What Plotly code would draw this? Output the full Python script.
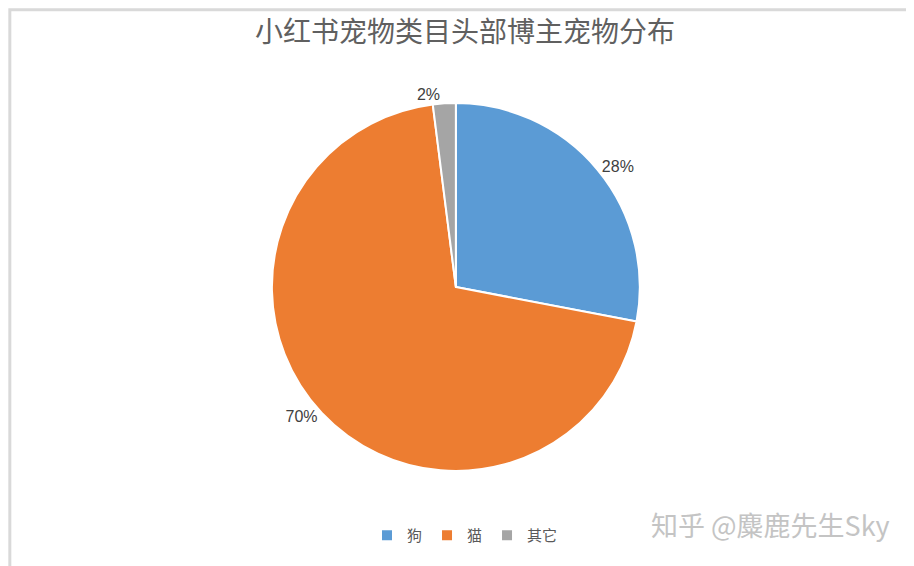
import plotly.graph_objects as graph_objects

# data
labels = ["狗", "猫", "其它"]
values = [28, 70, 2]
colors = ["#5B9BD5", "#ED7D31", "#A5A5A5"]
title_text = "小红书宠物类目头部博主宠物分布"
watermark = "知乎 @麋鹿先生Sky"

cjk = "Noto Sans CJK SC"

fig = graph_objects.Figure()
fig.add_trace(
    graph_objects.Pie(
        labels=labels,
        values=values,
        sort=False,
        direction="clockwise",
        rotation=0,
        marker=dict(colors=colors, line=dict(color="white", width=2)),
        textinfo="percent",
        texttemplate="%{percent:.0%}",
        textposition="outside",
        textfont=dict(family="Liberation Sans, " + cjk, size=16, color="#404040"),
        hoverinfo="label+percent",
        domain=dict(x=[0.27, 0.71], y=[0.182, 0.832]),
        showlegend=True,
    )
)

fig.update_layout(
    width=914,
    height=566,
    margin=dict(l=0, r=0, t=0, b=0),
    paper_bgcolor="white",
    plot_bgcolor="white",
    font=dict(family=cjk, color="#595959"),
    title=dict(
        text=title_text,
        x=0.5,
        xanchor="center",
        y=0.958,
        yanchor="middle",
        font=dict(family=cjk, size=28, color="#606060"),
    ),
    legend=dict(
        orientation="h",
        x=0.5,
        xanchor="center",
        y=0.068,
        yanchor="middle",
        font=dict(family=cjk, size=15, color="#595959"),
        itemwidth=30,
    ),
    shapes=[
        dict(
            type="rect",
            xref="paper",
            yref="paper",
            x0=0.002,
            y0=0.003,
            x1=0.998,
            y1=0.997,
            line=dict(color="#d9d9d9", width=3),
        )
    ],
    annotations=[
        dict(
            text=watermark,
            xref="paper",
            yref="paper",
            x=0.967,
            y=0.088,
            xanchor="right",
            yanchor="middle",
            showarrow=False,
            font=dict(family=cjk, size=27, color="#c4c4c4"),
        )
    ],
)

fig.write_html("out.html")
